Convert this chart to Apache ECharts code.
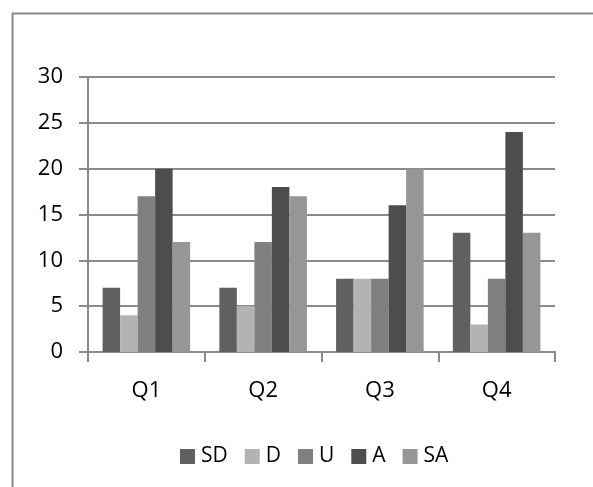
<!DOCTYPE html>
<html>
<head>
<meta charset="utf-8">
<script src="https://cdn.jsdelivr.net/npm/echarts@6/dist/echarts.min.js"></script>
<style>
  html, body { margin: 0; padding: 0; background: #fff; }
  #chart { width: 593px; height: 487px; }
</style>
</head>
<body>
<div id="chart"></div>
<script>
// Quarter categories and response counts per answer group
const categories = ['Q1', 'Q2', 'Q3', 'Q4'];
const seriesNames = ['SD', 'D', 'U', 'A', 'SA'];
const valuesSD = [7, 7, 8, 13];
const valuesD = [4, 5, 8, 3];
const valuesU = [17, 12, 8, 8];
const valuesA = [20, 18, 16, 24];
const valuesSA = [12, 17, 20, 13];
const yTicks = { min: 0, max: 30, step: 5 };

const seriesValues = [valuesSD, valuesD, valuesU, valuesA, valuesSA];
const palette = ['#606060', '#b3b3b3', '#808080', '#4d4d4d', '#969696'];
const axisGray = '#8a8a8a';
const fontFamily = '"Open Sans", Lato, sans-serif';

const chart = echarts.init(document.getElementById('chart'));
chart.setOption({
  animation: false,
  color: palette,
  textStyle: { fontFamily: fontFamily },
  graphic: [{
    type: 'rect',
    left: 10, top: 11,
    shape: { x: 0, y: 0, width: 700, height: 700 },
    style: { fill: 'none', stroke: '#878787', lineWidth: 2 },
    silent: true
  }],
  grid: { left: 88, right: 38, top: 77, bottom: 135 },
  legend: {
    left: 175,
    top: 441,
    itemWidth: 15,
    itemHeight: 15,
    itemGap: 17,
    icon: 'rect',
    textStyle: { fontSize: 21, color: '#000', fontFamily: fontFamily, padding: [0, 0, 0, 1] },
    data: seriesNames
  },
  xAxis: {
    type: 'category',
    data: categories,
    axisLine: { lineStyle: { color: axisGray, width: 2 } },
    axisTick: { show: true, length: 10, alignWithLabel: false, lineStyle: { color: axisGray, width: 2 } },
    axisLabel: { fontSize: 22, color: '#000', margin: 28, fontFamily: fontFamily }
  },
  yAxis: {
    type: 'value',
    min: yTicks.min,
    max: yTicks.max,
    interval: yTicks.step,
    axisLine: { show: true, lineStyle: { color: axisGray, width: 2 } },
    axisTick: { show: true, length: 9, lineStyle: { color: axisGray, width: 2 } },
    splitLine: { lineStyle: { color: axisGray, width: 2 } },
    axisLabel: { fontSize: 22, color: '#000', margin: 25, fontFamily: fontFamily }
  },
  series: seriesNames.map((name, i) => ({
    name: name,
    type: 'bar',
    data: seriesValues[i],
    barGap: '0%',
    barCategoryGap: '25%',
    itemStyle: { color: palette[i] }
  }))
});
</script>
</body>
</html>
